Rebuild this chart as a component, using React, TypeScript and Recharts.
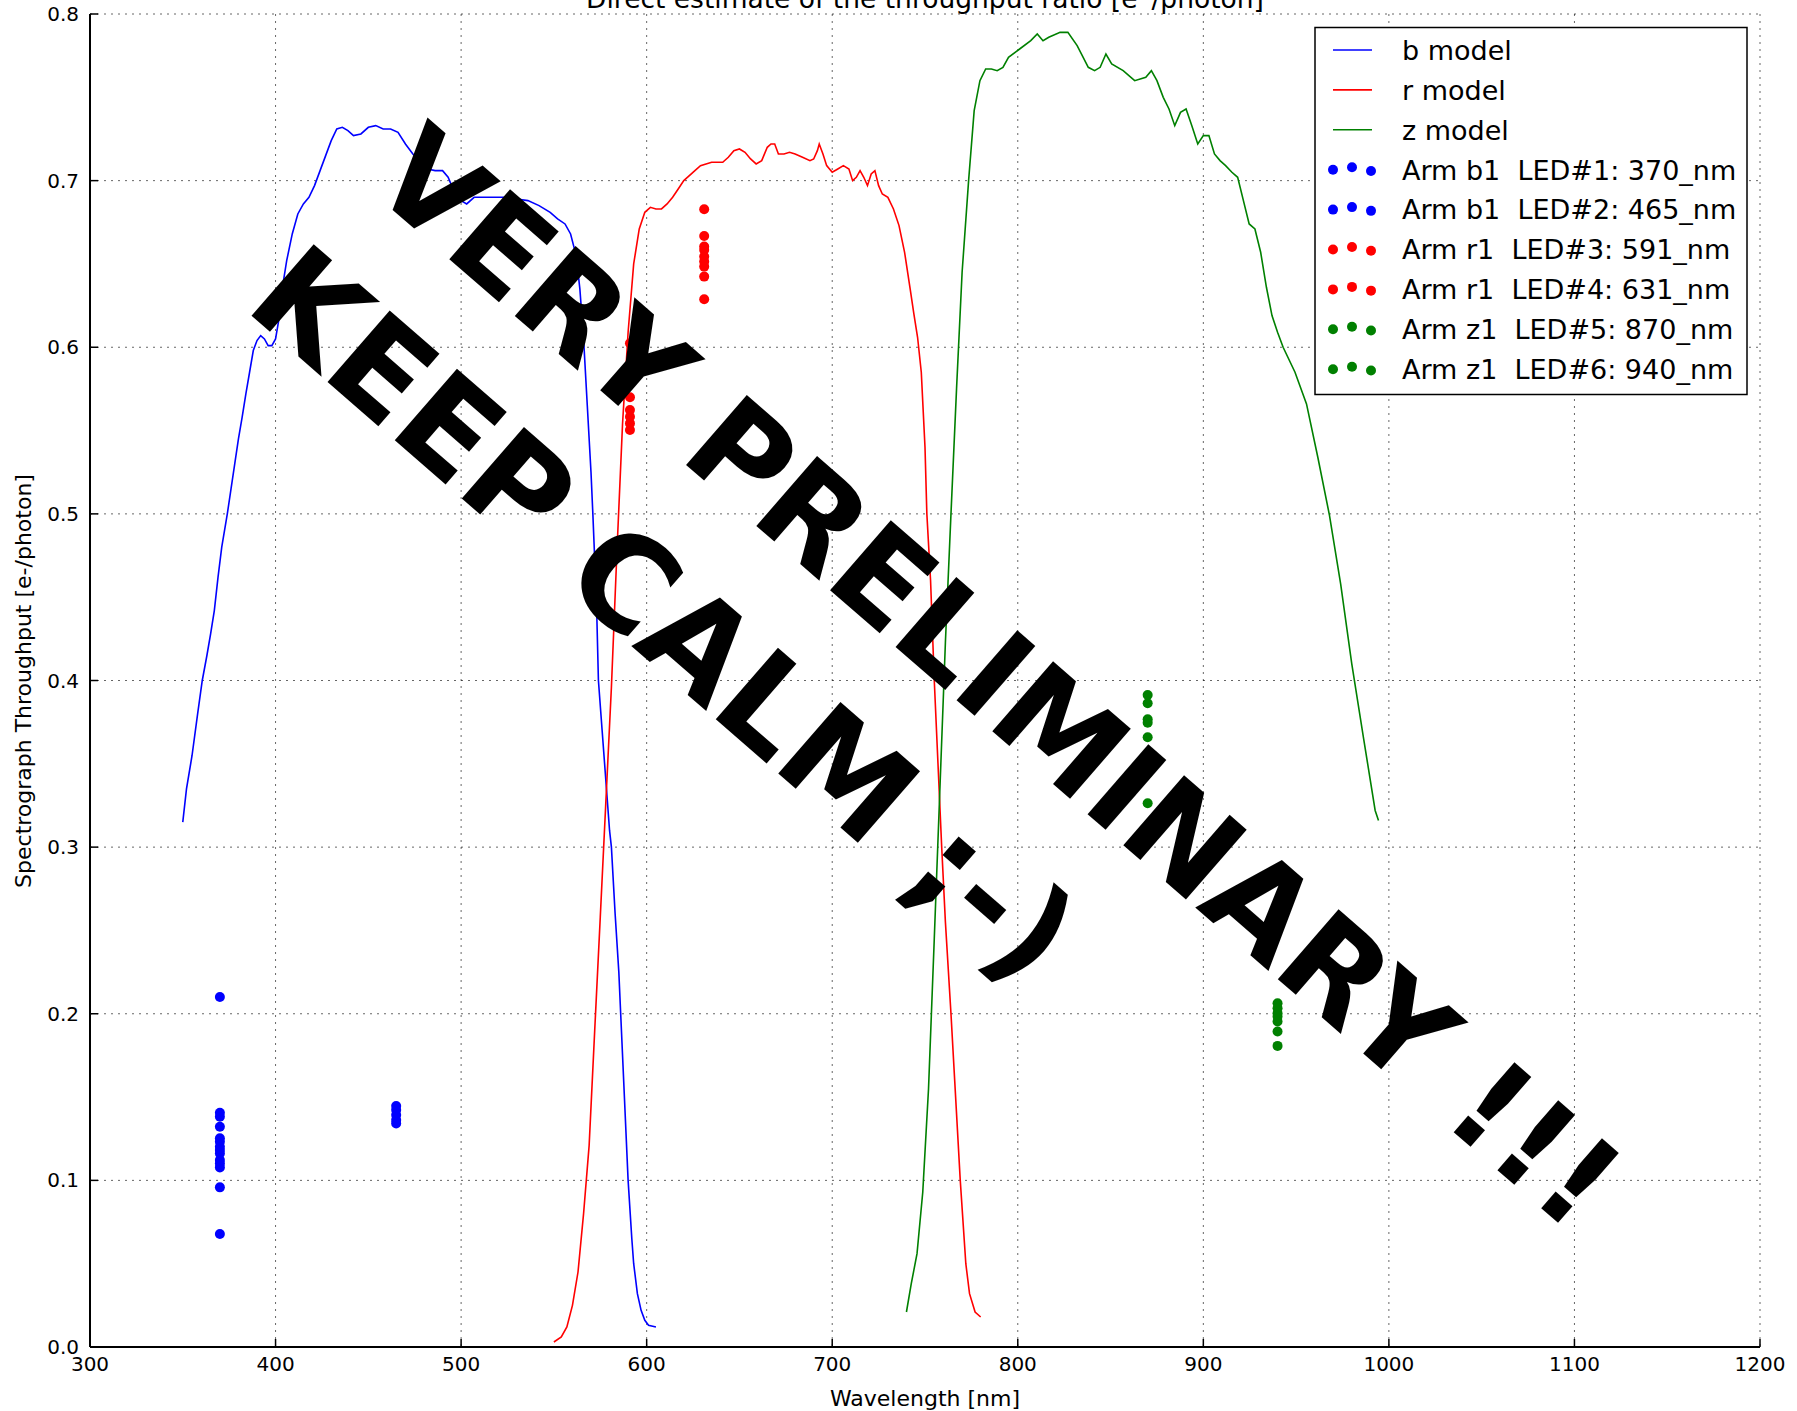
import React from 'react';
import { ComposedChart, Line, Scatter, XAxis, YAxis, CartesianGrid } from 'recharts';

const xTicks = [300, 400, 500, 600, 700, 800, 900, 1000, 1100, 1200];
const yTicks = [0, 0.1, 0.2, 0.3, 0.4, 0.5, 0.6, 0.7, 0.8];

const chartTitle = 'Direct estimate of the throughput ratio [e\u207B/photon]';
const xLabel = 'Wavelength [nm]';
const yLabel = 'Spectrograph Throughput [e-/photon]';
const watermark1 = 'VERY PRELIMINARY !!!';
const watermark2 = 'KEEP CALM ;-)';

// [wavelength nm, throughput]
const bModel: [number, number][] = [
  [350, 0.315], [352, 0.335], [355, 0.355], [358, 0.380], [360.5, 0.400], [363, 0.415], [365, 0.428],
  [367, 0.442], [369, 0.462], [371, 0.480], [374, 0.500], [376, 0.515], [378, 0.530], [380, 0.545],
  [382, 0.558], [384, 0.572], [386, 0.585], [388, 0.598], [390, 0.604], [392, 0.607], [394, 0.605],
  [396, 0.601], [398, 0.601], [400, 0.605], [402, 0.618], [404, 0.638], [406, 0.652], [409, 0.668],
  [412, 0.680], [415, 0.686], [418, 0.690], [421, 0.697], [424, 0.706], [427, 0.715], [430, 0.724],
  [433, 0.731], [436, 0.732], [439, 0.730], [442, 0.727], [446, 0.728], [450, 0.732], [454, 0.733],
  [458, 0.731], [462, 0.731], [466, 0.729], [470, 0.722], [474, 0.716], [478, 0.711], [482, 0.707],
  [486, 0.706], [490, 0.706], [493, 0.702], [496, 0.694], [500, 0.688], [503, 0.686], [507, 0.690],
  [512, 0.690], [518, 0.690], [524, 0.690], [530, 0.689], [536, 0.688], [542, 0.685], [548, 0.681],
  [552, 0.677], [556, 0.674], [559, 0.668], [562, 0.655], [564, 0.635], [566, 0.605], [568, 0.565],
  [570, 0.525], [571, 0.500], [573, 0.445], [574, 0.400], [576, 0.370], [578, 0.340], [580, 0.310],
  [581, 0.300], [583, 0.260], [585, 0.225], [586, 0.200], [588, 0.150], [590, 0.100], [592, 0.065],
  [593, 0.050], [595, 0.032], [597, 0.022], [599, 0.016], [601, 0.013], [605, 0.012],
];

const rModel: [number, number][] = [
  [550, 0.003], [554, 0.006], [557, 0.012], [560, 0.025], [563, 0.045], [566, 0.080], [569, 0.121],
  [572, 0.190], [575, 0.258], [578, 0.327], [581, 0.396], [584, 0.478], [587, 0.554], [590, 0.609],
  [593, 0.650], [596, 0.671], [599, 0.681], [602, 0.684], [605, 0.683], [608, 0.683], [611, 0.686],
  [614, 0.690], [617, 0.695], [620, 0.700], [623, 0.703], [626, 0.706], [629, 0.709], [632, 0.710],
  [635, 0.711], [638, 0.711], [641, 0.711], [644, 0.714], [647, 0.718], [650, 0.719], [653, 0.717],
  [656, 0.713], [659, 0.710], [662, 0.712], [665, 0.720], [667, 0.722], [669, 0.722], [671, 0.716],
  [674, 0.716], [677, 0.717], [680, 0.716], [684, 0.714], [688, 0.712], [690, 0.713], [692, 0.718],
  [693, 0.722], [695, 0.716], [697, 0.709], [700, 0.705], [703, 0.707], [706, 0.709], [709, 0.707],
  [711, 0.700], [713, 0.702], [715, 0.706], [717, 0.702], [719, 0.697], [721, 0.704], [723, 0.706],
  [725, 0.697], [727, 0.692], [730, 0.690], [733, 0.683], [736, 0.673], [739, 0.657], [742, 0.635],
  [744, 0.620], [746, 0.606], [748, 0.585], [750, 0.540], [751, 0.500], [753, 0.460], [755, 0.400],
  [757, 0.350], [759, 0.300], [761, 0.255], [764, 0.200], [766, 0.160], [769, 0.100], [772, 0.050],
  [774, 0.032], [777, 0.021], [780, 0.018],
];

const zModel: [number, number][] = [
  [740, 0.021], [742.6, 0.038], [745.7, 0.056], [748.8, 0.093], [751.9, 0.155], [755, 0.245],
  [758, 0.334], [761, 0.423], [764, 0.500], [767, 0.575], [770, 0.645], [773.5, 0.700], [776.5, 0.742],
  [779.6, 0.760], [782.7, 0.767], [785.8, 0.767], [788.9, 0.766], [792, 0.768], [795, 0.774],
  [801, 0.779], [807, 0.784], [810.5, 0.788], [813.6, 0.784], [816.7, 0.786], [822.8, 0.789],
  [827, 0.789], [832, 0.781], [838, 0.768], [841.4, 0.766], [844.4, 0.768], [847.5, 0.776],
  [850.6, 0.770], [856.8, 0.766], [863, 0.760], [869, 0.762], [872, 0.766], [875, 0.760],
  [878.4, 0.750], [881.5, 0.743], [884.6, 0.733], [887.7, 0.741], [890.7, 0.743], [893.8, 0.733],
  [897, 0.722], [900, 0.727], [903, 0.727], [906, 0.716], [909, 0.712], [912, 0.709], [915.4, 0.705],
  [918.5, 0.702], [921.6, 0.688], [924.7, 0.674], [927.8, 0.671], [930.9, 0.657], [934, 0.636],
  [937, 0.619], [940, 0.609], [943, 0.600], [949.4, 0.585], [955.6, 0.566], [961.7, 0.534],
  [968, 0.499], [974, 0.458], [980, 0.410], [986.4, 0.365], [992.6, 0.322], [994.4, 0.316],
];

const ledWavelengths = [370, 465, 591, 631, 870, 940];
const ledLabels = [
  'Arm b1  LED#1: 370_nm',
  'Arm b1  LED#2: 465_nm',
  'Arm r1  LED#3: 591_nm',
  'Arm r1  LED#4: 631_nm',
  'Arm z1  LED#5: 870_nm',
  'Arm z1  LED#6: 940_nm',
];
const ledColors = ['#0000ff', '#0000ff', '#ff0000', '#ff0000', '#008000', '#008000'];
const led1 = [0.210, 0.1406, 0.1382, 0.1322, 0.1253, 0.1232, 0.1202, 0.1182, 0.1162, 0.1122, 0.1102, 0.1078, 0.0958, 0.0678];
const led2 = [0.1446, 0.1422, 0.1392, 0.1362, 0.1342];
const led3 = [0.6024, 0.578, 0.570, 0.5623, 0.5583, 0.5543, 0.5503];
const led4 = [0.6828, 0.6668, 0.6604, 0.6584, 0.6544, 0.6514, 0.6484, 0.6424, 0.6288];
const led5 = [0.3913, 0.3863, 0.3767, 0.3747, 0.3659, 0.3533, 0.3443, 0.3263];
const led6 = [0.2063, 0.2033, 0.2003, 0.1983, 0.1953, 0.1893, 0.1807];
const ledValues = [led1, led2, led3, led4, led5, led6];

const modelNames = ['b model', 'r model', 'z model'];
const modelColors = ['#0000ff', '#ff0000', '#008000'];
const models = [bModel, rModel, zModel];

const W = 1797;
const H = 1411;
const FONT = "'DejaVu Sans', sans-serif";

const toPts = (arr: [number, number][]) => arr.map(([x, y]) => ({ x, y }));

const dotShape = (color: string) => (props: any) => (
  <circle cx={props.cx} cy={props.cy} r={5} fill={color} stroke="none" />
);

export default function App() {
  const legendTop = 50;
  const rowH = 39.9;
  const legendLabels = [...modelNames, ...ledLabels];
  return (
    <div style={{ position: 'absolute', left: 0, top: 0, width: W, height: H, background: '#fff', overflow: 'hidden' }}>
      <ComposedChart
        width={W}
        height={H}
        margin={{ top: 14, right: 37, left: 0, bottom: 0 }}
        style={{ fontFamily: FONT }}
      >
        <CartesianGrid stroke="#000" strokeOpacity={0.6} strokeDasharray="2 5" strokeWidth={1} />
        <XAxis
          dataKey="x"
          type="number"
          domain={[300, 1200]}
          ticks={xTicks}
          interval={0}
          allowDataOverflow
          height={64}
          tickSize={-8}
          tickMargin={18}
          tick={{ fontSize: 20, fill: '#000', fontFamily: FONT }}
          axisLine={{ stroke: '#000', strokeWidth: 2 }}
          tickLine={{ stroke: '#000', strokeWidth: 1.5 }}
        />
        <XAxis
          xAxisId="top"
          orientation="top"
          type="number"
          domain={[300, 1200]}
          ticks={xTicks}
          interval={0}
          allowDataOverflow
          height={0}
          tickSize={-8}
          tick={false}
          axisLine={{ stroke: '#000', strokeWidth: 2 }}
          tickLine={{ stroke: '#000', strokeWidth: 1.5 }}
        />
        <YAxis
          dataKey="y"
          type="number"
          domain={[0, 0.8]}
          ticks={yTicks}
          interval={0}
          allowDataOverflow
          width={90}
          tickSize={-8}
          tickMargin={19}
          tickFormatter={(v: number) => v.toFixed(1)}
          tick={{ fontSize: 20, fill: '#000', fontFamily: FONT }}
          axisLine={{ stroke: '#000', strokeWidth: 2 }}
          tickLine={{ stroke: '#000', strokeWidth: 1.5 }}
        />
        <YAxis
          yAxisId="right"
          orientation="right"
          type="number"
          domain={[0, 0.8]}
          ticks={yTicks}
          interval={0}
          allowDataOverflow
          width={0}
          tickSize={-8}
          tick={false}
          axisLine={{ stroke: '#000', strokeWidth: 2 }}
          tickLine={{ stroke: '#000', strokeWidth: 1.5 }}
        />
        {models.map((m, i) => (
          <Line
            key={modelNames[i]}
            name={modelNames[i]}
            data={toPts(m)}
            dataKey="y"
            type="linear"
            stroke={modelColors[i]}
            strokeWidth={1.6}
            dot={false}
            activeDot={false}
            isAnimationActive={false}
          />
        ))}
        {ledValues.map((vals, i) => (
          <Scatter
            key={ledLabels[i]}
            name={ledLabels[i]}
            data={vals.map((v) => ({ x: ledWavelengths[i], y: v }))}
            dataKey="y"
            fill={ledColors[i]}
            shape={dotShape(ledColors[i])}
            isAnimationActive={false}
          />
        ))}
      </ComposedChart>
      <svg
        width={W}
        height={H}
        style={{ position: 'absolute', left: 0, top: 0, pointerEvents: 'none', fontFamily: FONT }}
      >
        <text x={925} y={8} textAnchor="middle" fontSize={26.5} fill="#000">{chartTitle}</text>
        <text x={925} y={1406} textAnchor="middle" fontSize={22} fill="#000">{xLabel}</text>
        <text x={31} y={681} textAnchor="middle" fontSize={22} fill="#000" transform="rotate(-90 31 681)">{yLabel}</text>

        <rect x={1315} y={27.5} width={432} height={367} fill="#fff" stroke="#000" strokeWidth={1.5} />
        {legendLabels.map((label, i) => {
          const cy = legendTop + rowH * i;
          const isModel = i < 3;
          const color = isModel ? modelColors[i] : ledColors[i - 3];
          return (
            <g key={label}>
              {isModel ? (
                <line x1={1333} x2={1372} y1={cy} y2={cy} stroke={color} strokeWidth={1.6} />
              ) : (
                <g>
                  <circle cx={1333} cy={cy} r={5} fill={color} />
                  <circle cx={1352} cy={cy - 2.5} r={5} fill={color} />
                  <circle cx={1371} cy={cy + 1.25} r={5} fill={color} />
                </g>
              )}
              <text x={1402} y={cy + 9.8} fontSize={27} fill="#000" style={{ whiteSpace: 'pre' }}>{label}</text>
            </g>
          );
        })}

        <g transform="translate(999 676) rotate(41)">
          <text x={0} y={46} textAnchor="middle" fontSize={127} fontWeight="bold" fill="#000">{watermark1}</text>
        </g>
        <g transform="translate(665 613) rotate(41)">
          <text x={0} y={47} textAnchor="middle" fontSize={130} fontWeight="bold" fill="#000">{watermark2}</text>
        </g>
      </svg>
    </div>
  );
}
